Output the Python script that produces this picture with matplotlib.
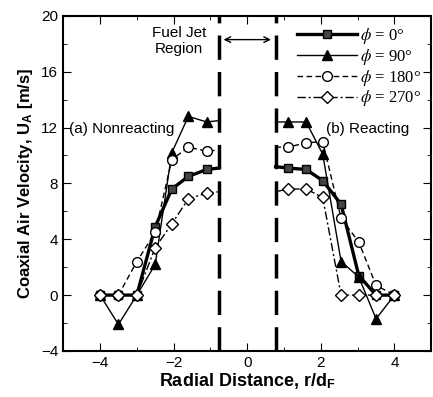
import numpy as np
import matplotlib.pyplot as plt
from matplotlib.lines import Line2D

plt.rcParams['font.family'] = ['Liberation Sans', 'DejaVu Sans']
plt.rcParams['mathtext.fontset'] = 'stix'

# (a) nonreacting, left side
r_left = [-4.0, -3.5, -3.0, -2.5, -2.05, -1.6, -1.1, -0.77]
u0_left = [0, 0, 0, 4.9, 7.6, 8.5, 9.0, 9.1]
u90_left = [0, -2.1, 0, 2.2, 10.2, 12.8, 12.4, 12.5]
u180_left = [0, 0, 2.4, 4.5, 9.7, 10.6, 10.3, 10.4]
u270_left = [0, 0, 0, 3.4, 5.1, 6.9, 7.3, 7.4]

# (b) reacting, right side
r_right = [0.77, 1.1, 1.6, 2.05, 2.55, 3.03, 3.5, 4.0]
u0_right = [9.2, 9.1, 9.0, 8.2, 6.5, 1.4, 0, 0]
u90_right = [12.4, 12.4, 12.4, 10.1, 2.4, 1.3, -1.7, 0]
u180_right = [10.6, 10.6, 10.9, 11.0, 5.5, 3.8, 0.7, 0]
u270_right = [7.4, 7.6, 7.6, 7.0, 0, 0, 0, 0]

labels = [r'$\phi$ = 0°', r'$\phi$ = 90°', r'$\phi$ = 180°', r'$\phi$ = 270°']

fig = plt.figure(figsize=(4.33, 3.97), dpi=100)
ax = fig.add_axes([0.146, 0.116, 0.85, 0.844])

styles = [
    dict(color='black', lw=2.4, ls='-', marker='s', mfc='#444444', mec='black', ms=6),
    dict(color='black', lw=1.0, ls='-', marker='^', mfc='black', mec='black', ms=6.5),
    dict(color='black', lw=1.0, ls=(0, (4, 2.5)), marker='o', mfc='white', mec='black', ms=7),
    dict(color='black', lw=1.0, ls=(0, (6, 2, 1.5, 2)), marker='D', mfc='white', mec='black', ms=6),
]

left = [u0_left, u90_left, u180_left, u270_left]
right = [u0_right, u90_right, u180_right, u270_right]
handles = []
for uL, uR, st, lab in zip(left, right, styles, labels):
    ax.plot(r_left, uL, markevery=list(range(len(r_left) - 1)), zorder=3, **st)
    ax.plot(r_right, uR, markevery=list(range(1, len(r_right))), zorder=3, **st)
    handles.append(Line2D([], [], label=lab, **st))

# fuel jet region boundaries
for xv in (-0.77, 0.77):
    ax.axvline(xv, color='black', lw=2.5, ls=(0, (7, 3.5)), zorder=2)

ax.annotate('', xy=(-0.72, 18.3), xytext=(0.72, 18.3),
            arrowprops=dict(arrowstyle='<->', color='black', lw=1.0))
ax.text(-1.85, 18.2, 'Fuel Jet\nRegion', ha='center', va='center', fontsize=11,
        linespacing=1.2)
ax.text(-4.85, 11.9, '(a) Nonreacting', ha='left', va='center', fontsize=11)
ax.text(2.15, 11.9, '(b) Reacting', ha='left', va='center', fontsize=11)

ax.legend(handles=handles, loc='upper right', frameon=False, handlelength=3.6,
          numpoints=1, prop={'family': 'Liberation Serif', 'size': 12},
          borderaxespad=0.2, labelspacing=0.05, handletextpad=0.2)

ax.set_xlim(-5, 5)
ax.set_ylim(-4, 20)
ax.set_xticks([-4, -2, 0, 2, 4])
ax.set_xticks(np.arange(-5, 5.1, 1), minor=True)
ax.set_yticks(np.arange(-4, 21, 4))
ax.set_yticks(np.arange(-4, 21, 2), minor=True)
ax.tick_params(which='both', direction='in', top=True, right=True, labelsize=11)
ax.tick_params(which='major', length=6)
ax.tick_params(which='minor', length=3)
for sp in ax.spines.values():
    sp.set_linewidth(1.5)

ax.set_xlabel(r'Radial Distance, r/d$_\mathregular{F}$', fontsize=13, fontweight='bold',
              labelpad=1)
ax.set_ylabel(r'Coaxial Air Velocity, U$_\mathregular{A}$ [m/s]', fontsize=12,
              fontweight='bold', labelpad=4)

fig.savefig('out.png', dpi=100)
